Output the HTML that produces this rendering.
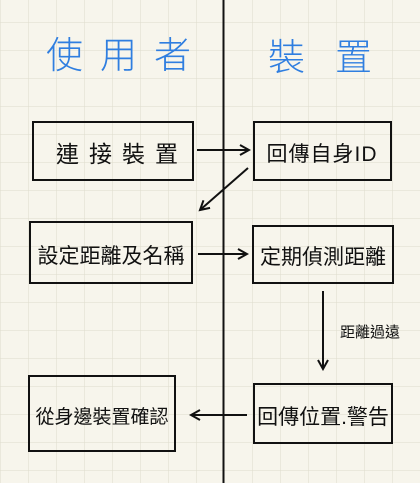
<!DOCTYPE html>
<html><head><meta charset="utf-8"><style>
html,body{margin:0;padding:0;background:#f7f5ec;}
svg{display:block}
text{font-family:"Liberation Sans","Noto Sans CJK TC","WenQuanYi Zen Hei",sans-serif;}
</style></head><body>
<svg width="420" height="483" viewBox="0 0 420 483" xmlns="http://www.w3.org/2000/svg">
<defs>
<pattern id="g" x="0" y="22" width="28" height="28" patternUnits="userSpaceOnUse">
<path d="M0 0H28M0 0V28" stroke="#dedbcc" stroke-width="1" fill="none"/>
</pattern>
<marker id="a" markerWidth="12" markerHeight="12" refX="10" refY="6" orient="auto" markerUnits="userSpaceOnUse">
<path d="M1 1L10 6L1 11" fill="none" stroke="#111" stroke-width="2"/>
</marker>
</defs>
<rect width="420" height="483" fill="#f7f5ec"/>
<rect width="420" height="483" fill="url(#g)"/>
<line x1="223.5" y1="0" x2="223.5" y2="483" stroke="#111" stroke-width="2"/>
<g fill="#2f7ee0" font-size="37" font-weight="300">
<text x="46" y="68" letter-spacing="17">使用者</text>
<text x="268" y="70" letter-spacing="30">裝置</text>
</g>
<g fill="none" stroke="#111" stroke-width="2">
<rect x="33" y="122" width="160" height="58"/>
<rect x="254" y="122" width="137" height="58"/>
<rect x="30" y="222" width="162" height="61"/>
<rect x="253" y="226" width="140" height="57"/>
<rect x="29" y="376" width="146" height="75"/>
<rect x="254" y="384" width="138" height="59"/>
<line x1="197" y1="150" x2="249" y2="150" marker-end="url(#a)"/>
<line x1="248" y1="168" x2="200" y2="210" marker-end="url(#a)"/>
<line x1="198" y1="254" x2="247" y2="254" marker-end="url(#a)"/>
<line x1="323" y1="291" x2="323" y2="369" marker-end="url(#a)"/>
<line x1="247" y1="415" x2="191" y2="415" marker-end="url(#a)"/>
</g>
<g fill="#111">
<text x="56" y="162" font-size="23" letter-spacing="10">連接裝置</text>
<text x="322" y="161" text-anchor="middle" font-size="21" letter-spacing="1">回傳自身ID</text>
<text x="111" y="263" text-anchor="middle" font-size="21">設定距離及名稱</text>
<text x="323" y="264" text-anchor="middle" font-size="21">定期偵測距離</text>
<text x="102" y="423" text-anchor="middle" font-size="19">從身邊裝置確認</text>
<text x="323" y="424" text-anchor="middle" font-size="21">回傳位置.警告</text>
<text x="370" y="337" text-anchor="middle" font-size="15">距離過遠</text>
</g>
</svg>
</body></html>
